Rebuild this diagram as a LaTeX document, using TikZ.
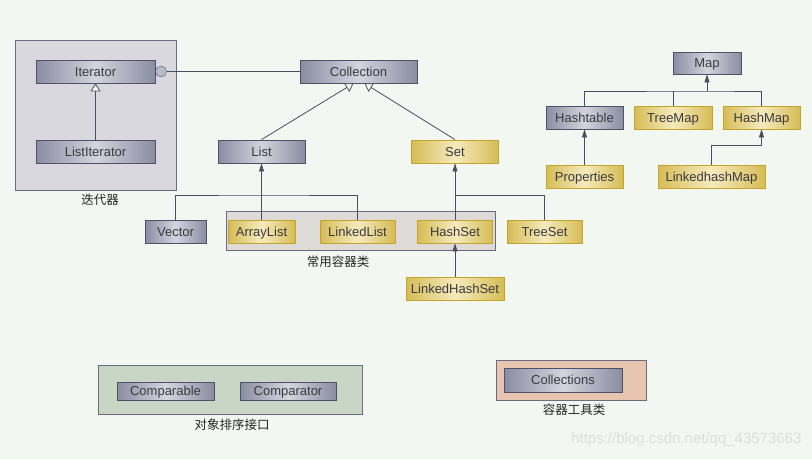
\documentclass[tikz,border=0pt]{standalone}
\usepackage{fontspec}
\setmainfont{Liberation Sans}
\newfontfamily\cjk{Noto Sans CJK SC}
\usetikzlibrary{arrows.meta,positioning}
\definecolor{pagebg}{RGB}{243,247,241}
\definecolor{clsedge}{RGB}{138,141,161}
\definecolor{clsmid}{RGB}{212,212,222}
\definecolor{clsline}{RGB}{78,82,102}
\definecolor{impedge}{RGB}{214,188,86}
\definecolor{impmid}{RGB}{245,234,188}
\definecolor{impline}{RGB}{194,165,42}
\definecolor{wirecol}{RGB}{74,78,96}
\definecolor{itergray}{RGB}{216,216,222}
\definecolor{usegray}{RGB}{221,218,216}
\definecolor{sortgreen}{RGB}{201,214,197}
\definecolor{toolpeach}{RGB}{232,197,176}
\definecolor{inktext}{RGB}{58,58,64}
\tikzset{
  cls/.style={draw=clsline,line width=0.8pt,left color=clsedge,right color=clsedge,middle color=clsmid,text=inktext,minimum height=23pt,inner sep=0pt,text height=9.4pt,text depth=0pt},
  imp/.style={draw=impline,line width=0.8pt,left color=impedge,right color=impedge,middle color=impmid,text=inktext,minimum height=23pt,inner sep=0pt,text height=9.4pt,text depth=0pt},
  grp/.style={draw=clsline!85,line width=0.8pt,inner sep=0pt},
  glabel/.style={font=\cjk\fontsize{12.5}{14}\selectfont,text=black!85},
  wire/.style={draw=wirecol,line width=0.8pt},
  inh/.style={wire,-{Triangle[width=5pt,length=8pt]}},
  gen/.style={wire,-{Triangle[open,width=10pt,length=8pt,fill=white]}},
}
\begin{document}
\begin{tikzpicture}[x=1pt,y=-1pt,font=\fontsize{13}{15}\selectfont]
\fill[pagebg] (0,0) rectangle (812,459);
\useasboundingbox (0,0) rectangle (812,459);
% groups
\node[grp,fill=itergray,minimum width=161pt,minimum height=150pt] (itergrp) at (95.5,115) {};
\node[grp,fill=usegray,minimum width=269pt,minimum height=39pt] (usegrp) at (360.5,230.5) {};
\node[grp,fill=sortgreen,minimum width=264pt,minimum height=49pt] (sortgrp) at (230,389.5) {};
\node[grp,fill=toolpeach,minimum width=150pt,minimum height=40pt] (toolgrp) at (571,380) {};
\node[glabel] (iterlbl) at (100,200) {迭代器};
\node[glabel] (uselbl) at (338,262) {常用容器类};
\node[glabel] (sortlbl) at (232,425) {对象排序接口};
\node[glabel] (toollbl) at (574,410) {容器工具类};
% classes
\node[cls,minimum width=119pt] (iter) at (95.5,71.5) {Iterator};
\node[cls,minimum width=119pt] (listiter) at (95.5,151.5) {ListIterator};
\node[draw=clsline,circle,minimum size=11pt,inner sep=0pt,fill=clsedge!60] (lolli) at (161,71.5) {};
\node[cls,minimum width=117pt] (collection) at (358.5,71.5) {Collection};
\node[cls,minimum width=87pt] (list) at (261.5,151.5) {List};
\node[imp,minimum width=87pt] (set) at (455,151.5) {Set};
\node[cls,minimum width=61pt] (vector) at (175.5,231.5) {Vector};
\node[imp,minimum width=67pt] (arraylist) at (261.5,231.5) {ArrayList};
\node[imp,minimum width=75pt] (linkedlist) at (357.5,231.5) {LinkedList};
\node[imp,minimum width=75pt] (hashset) at (455,231.5) {HashSet};
\node[imp,minimum width=75pt] (treeset) at (544.5,231.5) {TreeSet};
\node[imp,minimum width=98pt] (lhset) at (455,288.5) {LinkedHashSet};
\node[cls,minimum width=68pt,minimum height=22pt] (map) at (707,63) {Map};
\node[cls,minimum width=77pt] (hashtable) at (584.5,117.5) {Hashtable};
\node[imp,minimum width=78pt] (treemap) at (673,117.5) {TreeMap};
\node[imp,minimum width=77pt] (hashmap) at (761.5,117.5) {HashMap};
\node[imp,minimum width=77pt] (props) at (584.5,176.5) {Properties};
\node[imp,minimum width=107pt] (lhmap) at (711.5,176.5) {LinkedhashMap};
\node[cls,minimum width=97pt,minimum height=18pt] (comparable) at (165.5,391) {Comparable};
\node[cls,minimum width=96pt,minimum height=18pt] (comparator) at (288,391) {Comparator};
\node[cls,minimum width=118pt,minimum height=24pt] (collections) at (563,380) {Collections};
\node[text=black!13,anchor=east,font=\fontsize{15}{17}\selectfont] (mark) at (805,440) {https://blog.csdn.net/qq\_43573663};
% connectors
\coordinate (listbus) at (261.5,195);
\coordinate (setbus) at (455,195);
\coordinate (mapbus) at (707,91);
\draw[gen] (listiter) -- (iter);
\draw[wire] (lolli) -- (collection);
\draw[gen] (list.north) -- ([xshift=-5pt]collection.south);
\draw[gen] (set.north) -- ([xshift=6pt]collection.south);
\draw[inh] (arraylist.north) -- (list.south);
\draw[wire] (vector.north) |- (listbus) -| (linkedlist.north);
\draw[inh] (hashset.north) -- (set.south);
\draw[wire] (setbus) -| (treeset.north);
\draw[inh] (lhset.north) -- (hashset.south);
\draw[inh] (mapbus) -- (map.south);
\draw[wire] (hashtable.north) |- (mapbus) -| (hashmap.north);
\draw[wire] (treemap.north) -- (treemap.north |- mapbus);
\draw[inh] (props.north) -- (hashtable.south);
\draw[inh] (lhmap.north) -- ++(0,-19) -| (hashmap.south);
\end{tikzpicture}
\end{document}
